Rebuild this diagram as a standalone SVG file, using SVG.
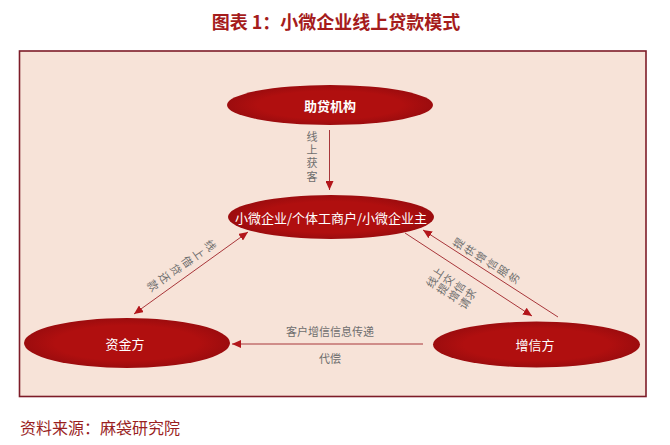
<svg xmlns="http://www.w3.org/2000/svg" width="670" height="445" viewBox="0 0 670 445">
<style>
.node{fill:url(#eg);}
.nl{fill:#ffffff;font-family:"Noto Sans CJK SC","Liberation Sans",sans-serif;font-size:13px;text-anchor:middle;dominant-baseline:central;}
.cl{fill:#6e6e6e;font-family:"Noto Sans CJK SC","Liberation Sans",sans-serif;font-size:11px;text-anchor:middle;dominant-baseline:central;}
.ln{stroke:#a8363a;stroke-width:1;fill:none;}
</style>
<defs>
<radialGradient id="eg" cx="0.5" cy="0.5" r="0.5">
<stop offset="0.7" stop-color="#b00f0f"/>
<stop offset="1" stop-color="#9c0c0e"/>
</radialGradient>
<marker id="ah" markerUnits="userSpaceOnUse" markerWidth="10" markerHeight="8" refX="9" refY="4" orient="auto-start-reverse">
<path d="M0,0 L9,4 L0,8 Z" fill="#b3161b"/>
</marker>
</defs>
<rect x="0" y="0" width="670" height="445" fill="#ffffff"/>
<text x="336" y="29" fill="#a51c1c" font-family="Noto Sans CJK SC,Liberation Sans,sans-serif" font-size="18" font-weight="bold" text-anchor="middle">图表 1：小微企业线上贷款模式</text>
<rect x="19.5" y="51" width="626.5" height="345.5" fill="#f7e3d8" stroke="#7d1c28" stroke-width="1.6"/>
<g id="connectors">
<line class="ln" x1="329.5" y1="130" x2="329.5" y2="190" marker-end="url(#ah)"/>
<line class="ln" x1="134" y1="314" x2="248" y2="232" marker-start="url(#ah)" marker-end="url(#ah)"/>
<line class="ln" x1="558" y1="317" x2="423" y2="230" marker-end="url(#ah)"/>
<line class="ln" x1="405" y1="233" x2="532" y2="316" marker-end="url(#ah)"/>
<line class="ln" x1="423" y1="344" x2="232" y2="344" marker-end="url(#ah)"/>
<text x="312" y="131" writing-mode="vertical-rl" letter-spacing="2.3" fill="#6e6e6e" font-family="Noto Sans CJK SC,Liberation Sans,sans-serif" font-size="11">线上获客</text>
<g transform="translate(211,245) rotate(55)"><text class="cl"><tspan x="0" y="0">线</tspan><tspan x="0" y="14">上</tspan><tspan x="0" y="28">借</tspan><tspan x="0" y="42">贷</tspan><tspan x="0" y="56">还</tspan><tspan x="0" y="70">款</tspan></text></g>
<g transform="translate(458,243) rotate(-58)"><text class="cl"><tspan x="0" y="0">提</tspan><tspan x="0" y="13">供</tspan><tspan x="0" y="26">增</tspan><tspan x="0" y="39">信</tspan><tspan x="0" y="52">服</tspan><tspan x="0" y="65">务</tspan></text></g>
<g transform="translate(434,277) rotate(-57)"><text class="cl"><tspan x="0" y="0">线上</tspan><tspan x="0" y="13">提交</tspan><tspan x="0" y="26">增信</tspan><tspan x="0" y="39">请求</tspan></text></g>
<text class="cl" x="330" y="331">客户增信信息传递</text>
<text class="cl" x="330" y="358">代偿</text>
</g>
<g id="node-zhudai">
<ellipse class="node" cx="330" cy="105" rx="103" ry="20"/>
<text class="nl" x="330" y="105" font-weight="bold">助贷机构</text>
</g>
<g id="node-xiaowei">
<ellipse class="node" cx="331" cy="217" rx="103" ry="22"/>
<text class="nl" x="331" y="217">小微企业/个体工商户/小微企业主</text>
</g>
<g id="node-zijin">
<ellipse class="node" cx="127" cy="343" rx="103" ry="25"/>
<text class="nl" x="125" y="343">资金方</text>
</g>
<g id="node-zengxin">
<ellipse class="node" cx="536.5" cy="344.5" rx="103.5" ry="23"/>
<text class="nl" x="535" y="344">增信方</text>
</g>
<text x="20" y="434" fill="#9a1f1f" font-family="Noto Sans CJK SC,Liberation Sans,sans-serif" font-size="16">资料来源：麻袋研究院</text>
</svg>
